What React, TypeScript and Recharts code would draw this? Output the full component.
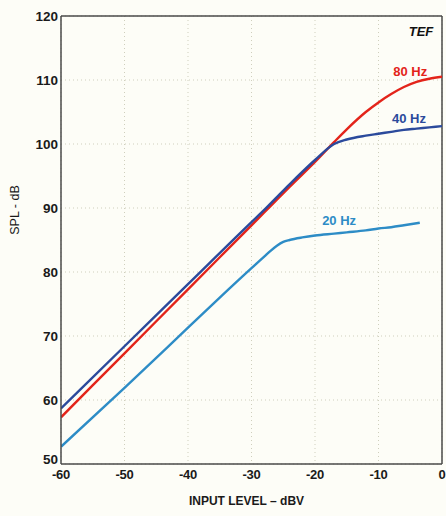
import React from 'react';
import { LineChart, Line, XAxis, YAxis, CartesianGrid, ReferenceLine, ReferenceDot, Label } from 'recharts';

// input level (dBV) sample points
const levels = [-60, -50, -40, -30, -28, -26, -24, -20, -17, -15, -12, -10, -8, -6, -4, -2, 0];
const spl80 = [57.3, 67.3, 77.3, 87.3, 89.3, 91.3, 93.3, 97.2, 100.3, 102.3, 105.0, 106.5, 107.8, 108.9, 109.7, 110.2, 110.5];
const spl40 = [58.7, 68.4, 78.1, 87.8, 89.7, 91.7, 93.7, 97.5, 100.0, 100.7, 101.3, 101.6, 101.9, 102.2, 102.4, 102.6, 102.8];

const levels20 = [-60, -50, -40, -35, -30, -28, -27, -26, -25, -24, -22, -20, -17, -15, -12, -10, -8, -6, -3.5];
const spl20 = [52.7, 61.9, 71.3, 76.0, 80.6, 82.4, 83.3, 84.1, 84.7, 85.0, 85.4, 85.7, 86.0, 86.2, 86.5, 86.8, 87.0, 87.3, 87.7];

const xTicks = [-60, -50, -40, -30, -20, -10, 0];
const yTicks = [50, 60, 70, 80, 90, 100, 110, 120];

const data80 = levels.map((x, i) => ({ x, y: spl80[i] }));
const data40 = levels.map((x, i) => ({ x, y: spl40[i] }));
const data20 = levels20.map((x, i) => ({ x, y: spl20[i] }));

const font = '"Liberation Sans", Arial, sans-serif';

const YTick = (props: any) => {
  const { x, y, payload } = props;
  const shift = payload.value === 50 ? -5 : 0;
  return (
    <text x={x} y={y + shift} dy="0.36em" textAnchor="end" fontFamily={font} fontSize={13.5} fontWeight="bold" fill="#1a1a1a">
      {payload.value}
    </text>
  );
};

const XTick = (props: any) => {
  const { x, y, payload } = props;
  return (
    <text x={x} y={y} dy="0.95em" textAnchor="middle" fontFamily={font} fontSize={13} fontWeight="bold" fill="#1a1a1a" letterSpacing={-0.3}>
      {payload.value}
    </text>
  );
};

const seriesLabel = (value: string, fill: string, size = 13, italic = false) => ({
  value,
  position: 'center' as const,
  fill,
  fontFamily: font,
  fontSize: size,
  fontWeight: 'bold',
  fontStyle: italic ? 'italic' : 'normal',
});

export default function App() {
  return (
    <div style={{ position: 'absolute', left: 0, top: 0, width: 446, height: 516, background: '#fdfdf7' }}>
      <LineChart width={446} height={516} margin={{ top: 16, right: 4, left: 0, bottom: 0 }}>
        <CartesianGrid stroke="#cfcfbd" strokeDasharray="1 3" />
        <XAxis
          dataKey="x"
          type="number"
          domain={[-60, 0]}
          ticks={xTicks}
          height={52}
          tickLine={false}
          tickSize={0}
          tickMargin={3}
          stroke="#4a4a4a"
          strokeWidth={1.5}
          tick={<XTick />}
          allowDataOverflow
        >
          <Label
            value="INPUT LEVEL – dBV"
            position="insideBottom"
            offset={11}
            dx={-5}
            fill="#1a1a1a"
            fontFamily={font}
            fontSize={12}
            fontWeight="bold"
          />
        </XAxis>
        <YAxis
          type="number"
          domain={[50, 120]}
          ticks={yTicks}
          width={61}
          tickLine={false}
          tickSize={0}
          tickMargin={3}
          stroke="#4a4a4a"
          strokeWidth={1.5}
          tick={<YTick />}
          allowDataOverflow
        >
          <Label
            content={() => (
              <text x={19} y={210} transform="rotate(-90 19 210)" textAnchor="middle" fontFamily={font} fontSize={12.5} fill="#1a1a1a">
                SPL - dB
              </text>
            )}
          />
        </YAxis>
        <ReferenceLine y={120} stroke="#4a4a4a" strokeWidth={1.5} />
        <ReferenceLine x={0} stroke="#4a4a4a" strokeWidth={1.5} />
        <Line data={data20} dataKey="y" type="monotone" stroke="#2d8cc6" strokeWidth={2.4} dot={false} isAnimationActive={false} />
        <Line data={data80} dataKey="y" type="monotone" stroke="#e3241a" strokeWidth={2.4} dot={false} isAnimationActive={false} />
        <Line data={data40} dataKey="y" type="monotone" stroke="#2b4a9c" strokeWidth={2.4} dot={false} isAnimationActive={false} />
        <ReferenceDot x={-5} y={111.4} r={0} stroke="none" label={seriesLabel('80 Hz', '#e3241a')} />
        <ReferenceDot x={-5.2} y={104.0} r={0} stroke="none" label={seriesLabel('40 Hz', '#2b4a9c')} />
        <ReferenceDot x={-16.2} y={88.1} r={0} stroke="none" label={seriesLabel('20 Hz', '#2d8cc6')} />
        <ReferenceDot x={-3.3} y={117.6} r={0} stroke="none" label={seriesLabel('TEF', '#111111', 13, true)} />
      </LineChart>
    </div>
  );
}
